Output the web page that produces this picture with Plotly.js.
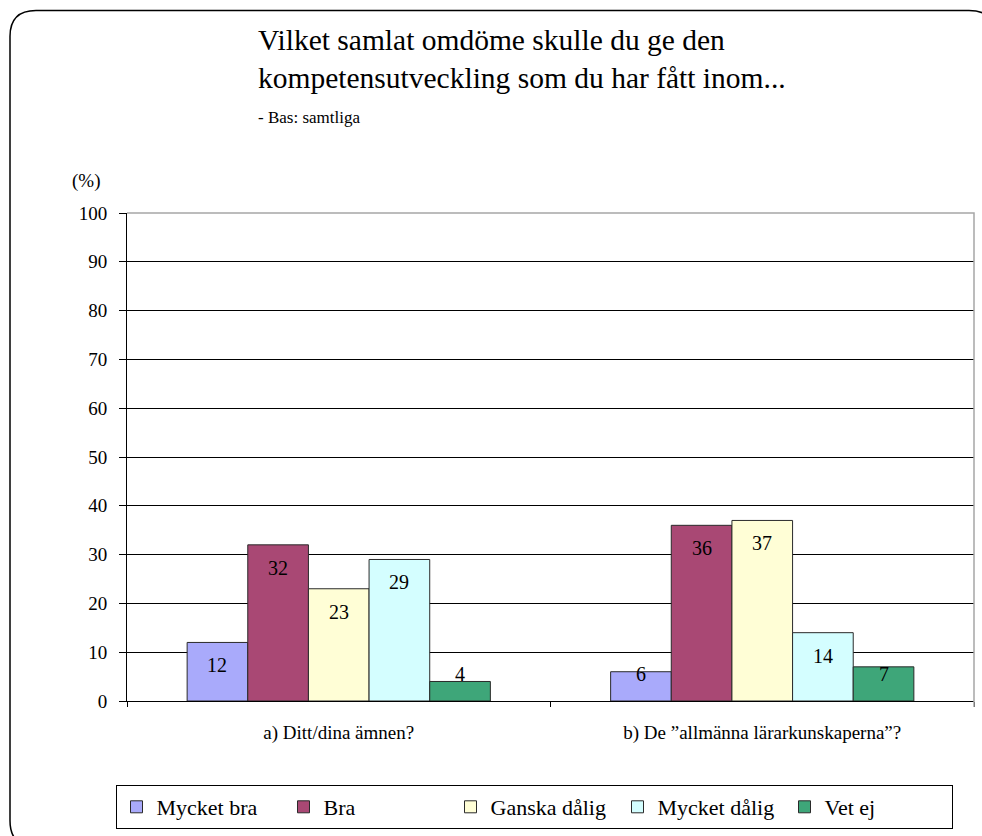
<!DOCTYPE html>
<html>
<head>
<meta charset="utf-8">
<script src="https://cdn.plot.ly/plotly-3.0.1.min.js"></script>
<style>html,body{margin:0;padding:0;background:#fff;}#chart{width:982px;height:836px;}</style>
</head>
<body>
<div id="chart"></div>
<script>
// ---- data ----
const categories = ['a) Ditt/dina ämnen?', 'b) De \u201Dallmänna lärarkunskaperna\u201D?'];
const seriesNames = ['Mycket bra', 'Bra', 'Ganska dålig', 'Mycket dålig', 'Vet ej'];
const mycketBra = [12, 6];
const bra = [32, 36];
const ganskaDalig = [23, 37];
const mycketDalig = [29, 14];
const vetEj = [4, 7];
const yTicks = [0, 10, 20, 30, 40, 50, 60, 70, 80, 90, 100];

// ---- style ----
const colors = ['#A9AAFB', '#A94874', '#FFFED6', '#D4FEFF', '#3EA679'];
const FONT = 'Liberation Serif, Times New Roman, serif';
const W = 982, H = 836;
const M = {l: 127, r: 8, t: 213, b: 134};
const BARGAP = 0.284;
const LABEL_MIN = 10.2; // labels never sit lower than this (data units)

const allSeries = [mycketBra, bra, ganskaDalig, mycketDalig, vetEj];

const traces = allSeries.map((vals, i) => ({
  type: 'bar',
  name: seriesNames[i],
  x: categories,
  y: vals,
  marker: {color: colors[i], line: {color: '#2a2a2a', width: 1}},
  hoverinfo: 'skip'
}));

// value labels
const nS = allSeries.length;
const bw = (1 - BARGAP) / nS;
const annotations = [];
allSeries.forEach((vals, si) => {
  vals.forEach((v, ci) => {
    annotations.push({
      xref: 'x', yref: 'y',
      x: ci + (si - (nS - 1) / 2) * bw,
      y: Math.max(v, LABEL_MIN),
      yshift: -23,
      text: String(v),
      showarrow: false,
      xanchor: 'center', yanchor: 'middle',
      font: {family: FONT, size: 20, color: '#000'}
    });
  });
});

// pixel -> paper helpers for decorative frame / text placement
const pw = W - M.l - M.r, ph = H - M.t - M.b;
const px = x => (x - M.l) / pw;
const py = y => (H - M.b - y) / ph;

annotations.push({
  xref: 'paper', yref: 'paper', x: px(256), y: py(22),
  xanchor: 'left', yanchor: 'top', align: 'left', showarrow: false,
  text: 'Vilket samlat omdöme skulle du ge den<br>kompetensutveckling som du har fått inom...',
  font: {family: FONT, size: 29.5, color: '#000'}
});
annotations.push({
  xref: 'paper', yref: 'paper', x: px(256), y: py(106),
  xanchor: 'left', yanchor: 'top', showarrow: false,
  text: '- Bas: samtliga',
  font: {family: FONT, size: 17, color: '#000'}
});
annotations.push({
  xref: 'paper', yref: 'paper', x: px(86), y: py(181),
  xanchor: 'center', yanchor: 'middle', showarrow: false,
  text: '(%)',
  font: {family: FONT, size: 19, color: '#000'}
});

// rounded outer frame
const L = 10, T = 10, R = 995, B = 848, r = 26;
const f = (x, y) => px(x) + ',' + py(y);
const framePath = 'M' + f(L + r, T) + ' L' + f(R - r, T) + ' Q' + f(R, T) + ' ' + f(R, T + r) +
  ' L' + f(R, B - r) + ' Q' + f(R, B) + ' ' + f(R - r, B) +
  ' L' + f(L + r, B) + ' Q' + f(L, B) + ' ' + f(L, B - r) +
  ' L' + f(L, T + r) + ' Q' + f(L, T) + ' ' + f(L + r, T) + ' Z';

const layout = {
  width: W, height: H,
  margin: M,
  paper_bgcolor: '#fff', plot_bgcolor: '#fff',
  font: {family: FONT, color: '#000'},
  showlegend: true,
  barmode: 'group',
  bargap: BARGAP,
  bargroupgap: 0,
  hovermode: false,
  xaxis: {
    type: 'category',
    tickson: 'boundaries',
    ticks: 'outside', ticklen: 5, tickcolor: '#000', tickwidth: 1,
    showline: true, linecolor: '#000', linewidth: 1,
    showgrid: false, zeroline: false,
    tickfont: {family: FONT, size: 19, color: '#000'},
    ticklabelstandoff: 14,
    fixedrange: true
  },
  yaxis: {
    range: [0, 100],
    tickvals: yTicks,
    ticktext: yTicks.map(String),
    ticks: 'outside', ticklen: 7, tickcolor: '#000', tickwidth: 1,
    showline: true, linecolor: '#000', linewidth: 1,
    showgrid: true, gridcolor: '#000', gridwidth: 1,
    zeroline: false,
    tickfont: {family: FONT, size: 19, color: '#000'},
    ticklabelstandoff: 8,
    fixedrange: true
  },
  legend: {
    orientation: 'h',
    x: px(534), xanchor: 'center',
    y: py(785), yanchor: 'top',
    bordercolor: '#000', borderwidth: 1,
    bgcolor: '#fff',
    font: {family: FONT, size: 22, color: '#000'},
    entrywidth: 122, entrywidthmode: 'pixels',
    traceorder: 'normal',
    itemclick: false, itemdoubleclick: false
  },
  annotations: annotations,
  shapes: [
    {type: 'path', xref: 'paper', yref: 'paper', path: 'M0,1 L1,1 L1,' + py(708),
     line: {color: '#a6a6a6', width: 1.5}, layer: 'above'},
    {type: 'path', xref: 'paper', yref: 'paper', path: framePath,
     line: {color: '#000', width: 1.5}, fillcolor: 'rgba(0,0,0,0)', layer: 'above'}
  ]
};

Plotly.newPlot('chart', traces, layout, {displayModeBar: false, staticPlot: true});
</script>
</body>
</html>
